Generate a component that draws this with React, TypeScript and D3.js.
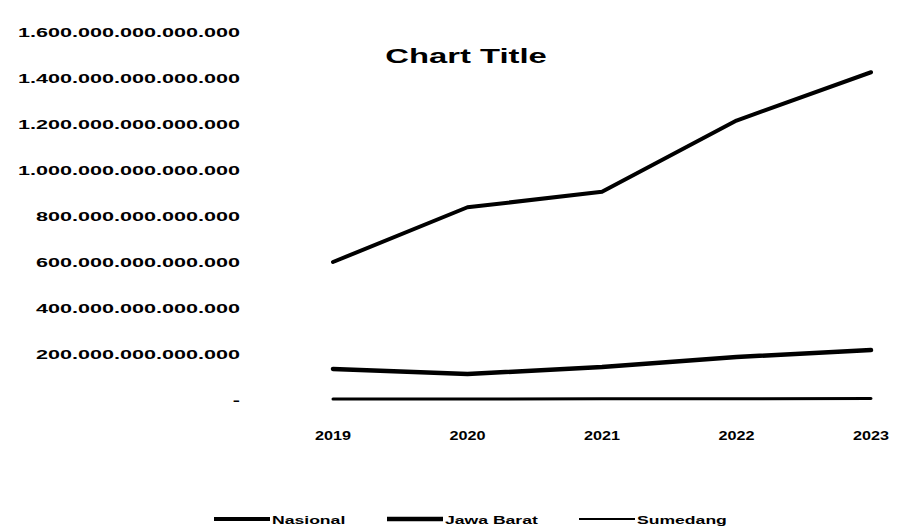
import React, { useEffect, useRef } from 'react';
import * as d3 from 'd3';

// chart data (values in rupiah)
const years = ['2019', '2020', '2021', '2022', '2023'];
const nasional = [600e12, 838e12, 905e12, 1215e12, 1425e12];
const jawaBarat = [135e12, 113e12, 143e12, 187e12, 217e12];
const sumedang = [4e12, 4.5e12, 5e12, 5.5e12, 6e12];
const seriesNames = ['Nasional', 'Jawa Barat', 'Sumedang'];
const yTicks = [0, 200e12, 400e12, 600e12, 800e12, 1000e12, 1200e12, 1400e12, 1600e12];

const fmt = (v: number) =>
  v === 0 ? '-' : Math.round(v).toString().replace(/\B(?=(\d{3})+(?!\d))/g, '.');

const App: React.FC = () => {
  const svgRef = useRef<SVGSVGElement>(null);

  useEffect(() => {
    if (!svgRef.current) return;

    const width = 900;
    const height = 532;
    const sx = 1.6; // reference text is stretched horizontally
    const font = "'Liberation Sans', Arial, sans-serif";

    const svg = d3.select(svgRef.current)
      .attr('width', width)
      .attr('height', height);
    svg.selectAll('*').remove();

    svg.append('rect').attr('width', width).attr('height', height).attr('fill', '#fff');

    const x = d3.scalePoint<string>().domain(years).range([333, 871]);
    const y = d3.scaleLinear().domain([0, 1600e12]).range([400, 32]);

    // y labels
    svg.append('g')
      .selectAll('text')
      .data(yTicks)
      .join('text')
        .attr('transform', d => `translate(240,${y(d) + 5}) scale(${sx},1)`)
        .attr('text-anchor', 'end')
        .attr('font-family', font)
        .attr('font-weight', 'bold')
        .attr('font-size', 13.5)
        .attr('fill', '#000')
        .text(d => fmt(d));

    // x labels
    svg.append('g')
      .selectAll('text')
      .data(years)
      .join('text')
        .attr('transform', d => `translate(${x(d)},${440}) scale(1.2,1)`)
        .attr('text-anchor', 'middle')
        .attr('font-family', font)
        .attr('font-weight', 'bold')
        .attr('font-size', 13.5)
        .attr('fill', '#000')
        .text(d => d);

    // title
    svg.append('text')
      .attr('transform', `translate(466,63) scale(${sx},1)`)
      .attr('text-anchor', 'middle')
      .attr('font-family', font)
      .attr('font-weight', 'bold')
      .attr('font-size', 20.5)
      .text('Chart Title');

    const line = d3.line<number>()
      .x((_, i) => x(years[i])!)
      .y(d => y(d));

    const series = [nasional, jawaBarat, sumedang];
    const widths = [4, 4.5, 3];
    const legendWidths = [4, 4.5, 2];

    svg.append('g')
      .selectAll('path')
      .data(series)
      .join('path')
        .attr('d', d => line(d))
        .attr('fill', 'none')
        .attr('stroke', '#000')
        .attr('stroke-width', (_, i) => widths[i])
        .attr('stroke-linejoin', 'round')
        .attr('stroke-linecap', 'round');

    // legend
    const legendX = [214, 387, 579];
    const lg = svg.append('g')
      .selectAll('g')
      .data(seriesNames)
      .join('g')
        .attr('transform', (_, i) => `translate(${legendX[i]},519)`);
    lg.append('line')
      .attr('x1', 0).attr('x2', 56)
      .attr('stroke', '#000')
      .attr('stroke-width', (_, i) => legendWidths[i]);
    lg.append('text')
      .attr('transform', `translate(58,5) scale(${sx},1)`)
      .attr('font-family', font)
      .attr('font-weight', 'bold')
      .attr('font-size', 11)
      .text(d => d);
  }, []);

  return (
    <svg ref={svgRef} style={{ position: 'absolute', left: 0, top: 0 }}></svg>
  );
};

export default App;
